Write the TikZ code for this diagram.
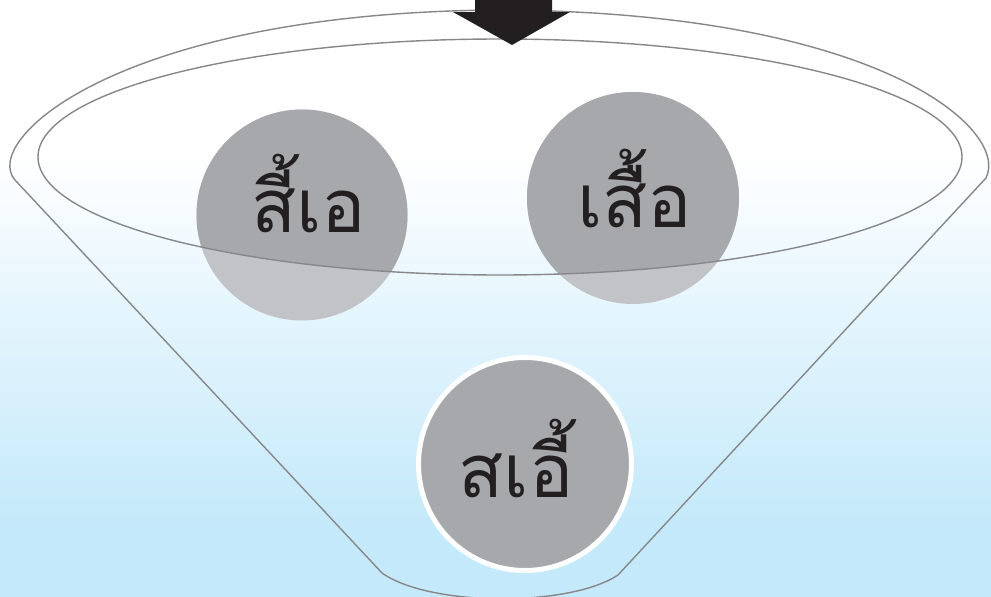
\documentclass[tikz,border=0pt]{standalone}
\usepackage{fontspec}
\newfontfamily\thaifont[Script=Thai]{Loma}
\definecolor{bgblue}{RGB}{196,233,250}
\definecolor{rimgray}{RGB}{135,135,137}
\definecolor{darkgray}{RGB}{167,168,172}
\definecolor{lightgray}{RGB}{194,195,199}
\definecolor{arrowblack}{RGB}{35,31,32}
\pgfdeclareverticalshading{bgshade}{100bp}{color(0bp)=(bgblue); color(31bp)=(bgblue); color(47.5bp)=(bgblue!50!white); color(62bp)=(white); color(100bp)=(white)}
\tikzset{
  rim/.style={draw=rimgray, line width=1.4pt},
  bubble/.style={circle, inner sep=0pt, fill=#1},
  label/.style={font=\thaifont\fontsize{74}{80}\selectfont, text=arrowblack, anchor=base, inner sep=0pt}
}
\begin{document}
\begin{tikzpicture}[x=1pt,y=-1pt]
\useasboundingbox (0,0) rectangle (991,597);
\shade[shading=bgshade] (0,0) rectangle (991,597);
\begin{scope}
\clip (0,0) rectangle (991,597);
% outer funnel outline
\coordinate (lc) at (15,180);
\coordinate (rc) at (986,178);
\coordinate (bl) at (382,573);
\coordinate (br) at (618,575);
\draw[rim, line join=round] (bl) -- (lc)
   .. controls (-20,140) and (120,12) .. (500,10)
   .. controls (880,12) and (1010,130) .. (rc)
   -- (br) .. controls (570,607) and (430,607) .. (bl);
% circles
\node[bubble=lightgray, minimum size=211pt] (c1) at (302,215) {};
\begin{scope}
\clip (500,157) ellipse [x radius=462, y radius=118];
\fill[darkgray] (c1.center) circle (105.5);
\end{scope}
\node[bubble=lightgray, minimum size=212pt] (c2) at (633,198) {};
\begin{scope}
\clip (500,157) ellipse [x radius=462, y radius=118];
\fill[darkgray] (c2.center) circle (106);
\end{scope}
\node[bubble=darkgray, draw=white, line width=5pt, minimum size=213pt] (c3) at (525,464) {};
% inner ellipse
\draw[rim] (500,157) ellipse [x radius=462, y radius=118];
% labels
\node[label] (t1) at (309,232) {สี้เอ};
\node[label] (t2) at (635,227) {เสื้อ};
\node[label] (t3) at (516,497) {สเอี้};
% arrow
\fill[arrowblack] (475,0) -- (552,0) -- (552,12) -- (570,12) -- (512,45) -- (453,12) -- (475,12) -- cycle;
\end{scope}
\end{tikzpicture}
\end{document}
